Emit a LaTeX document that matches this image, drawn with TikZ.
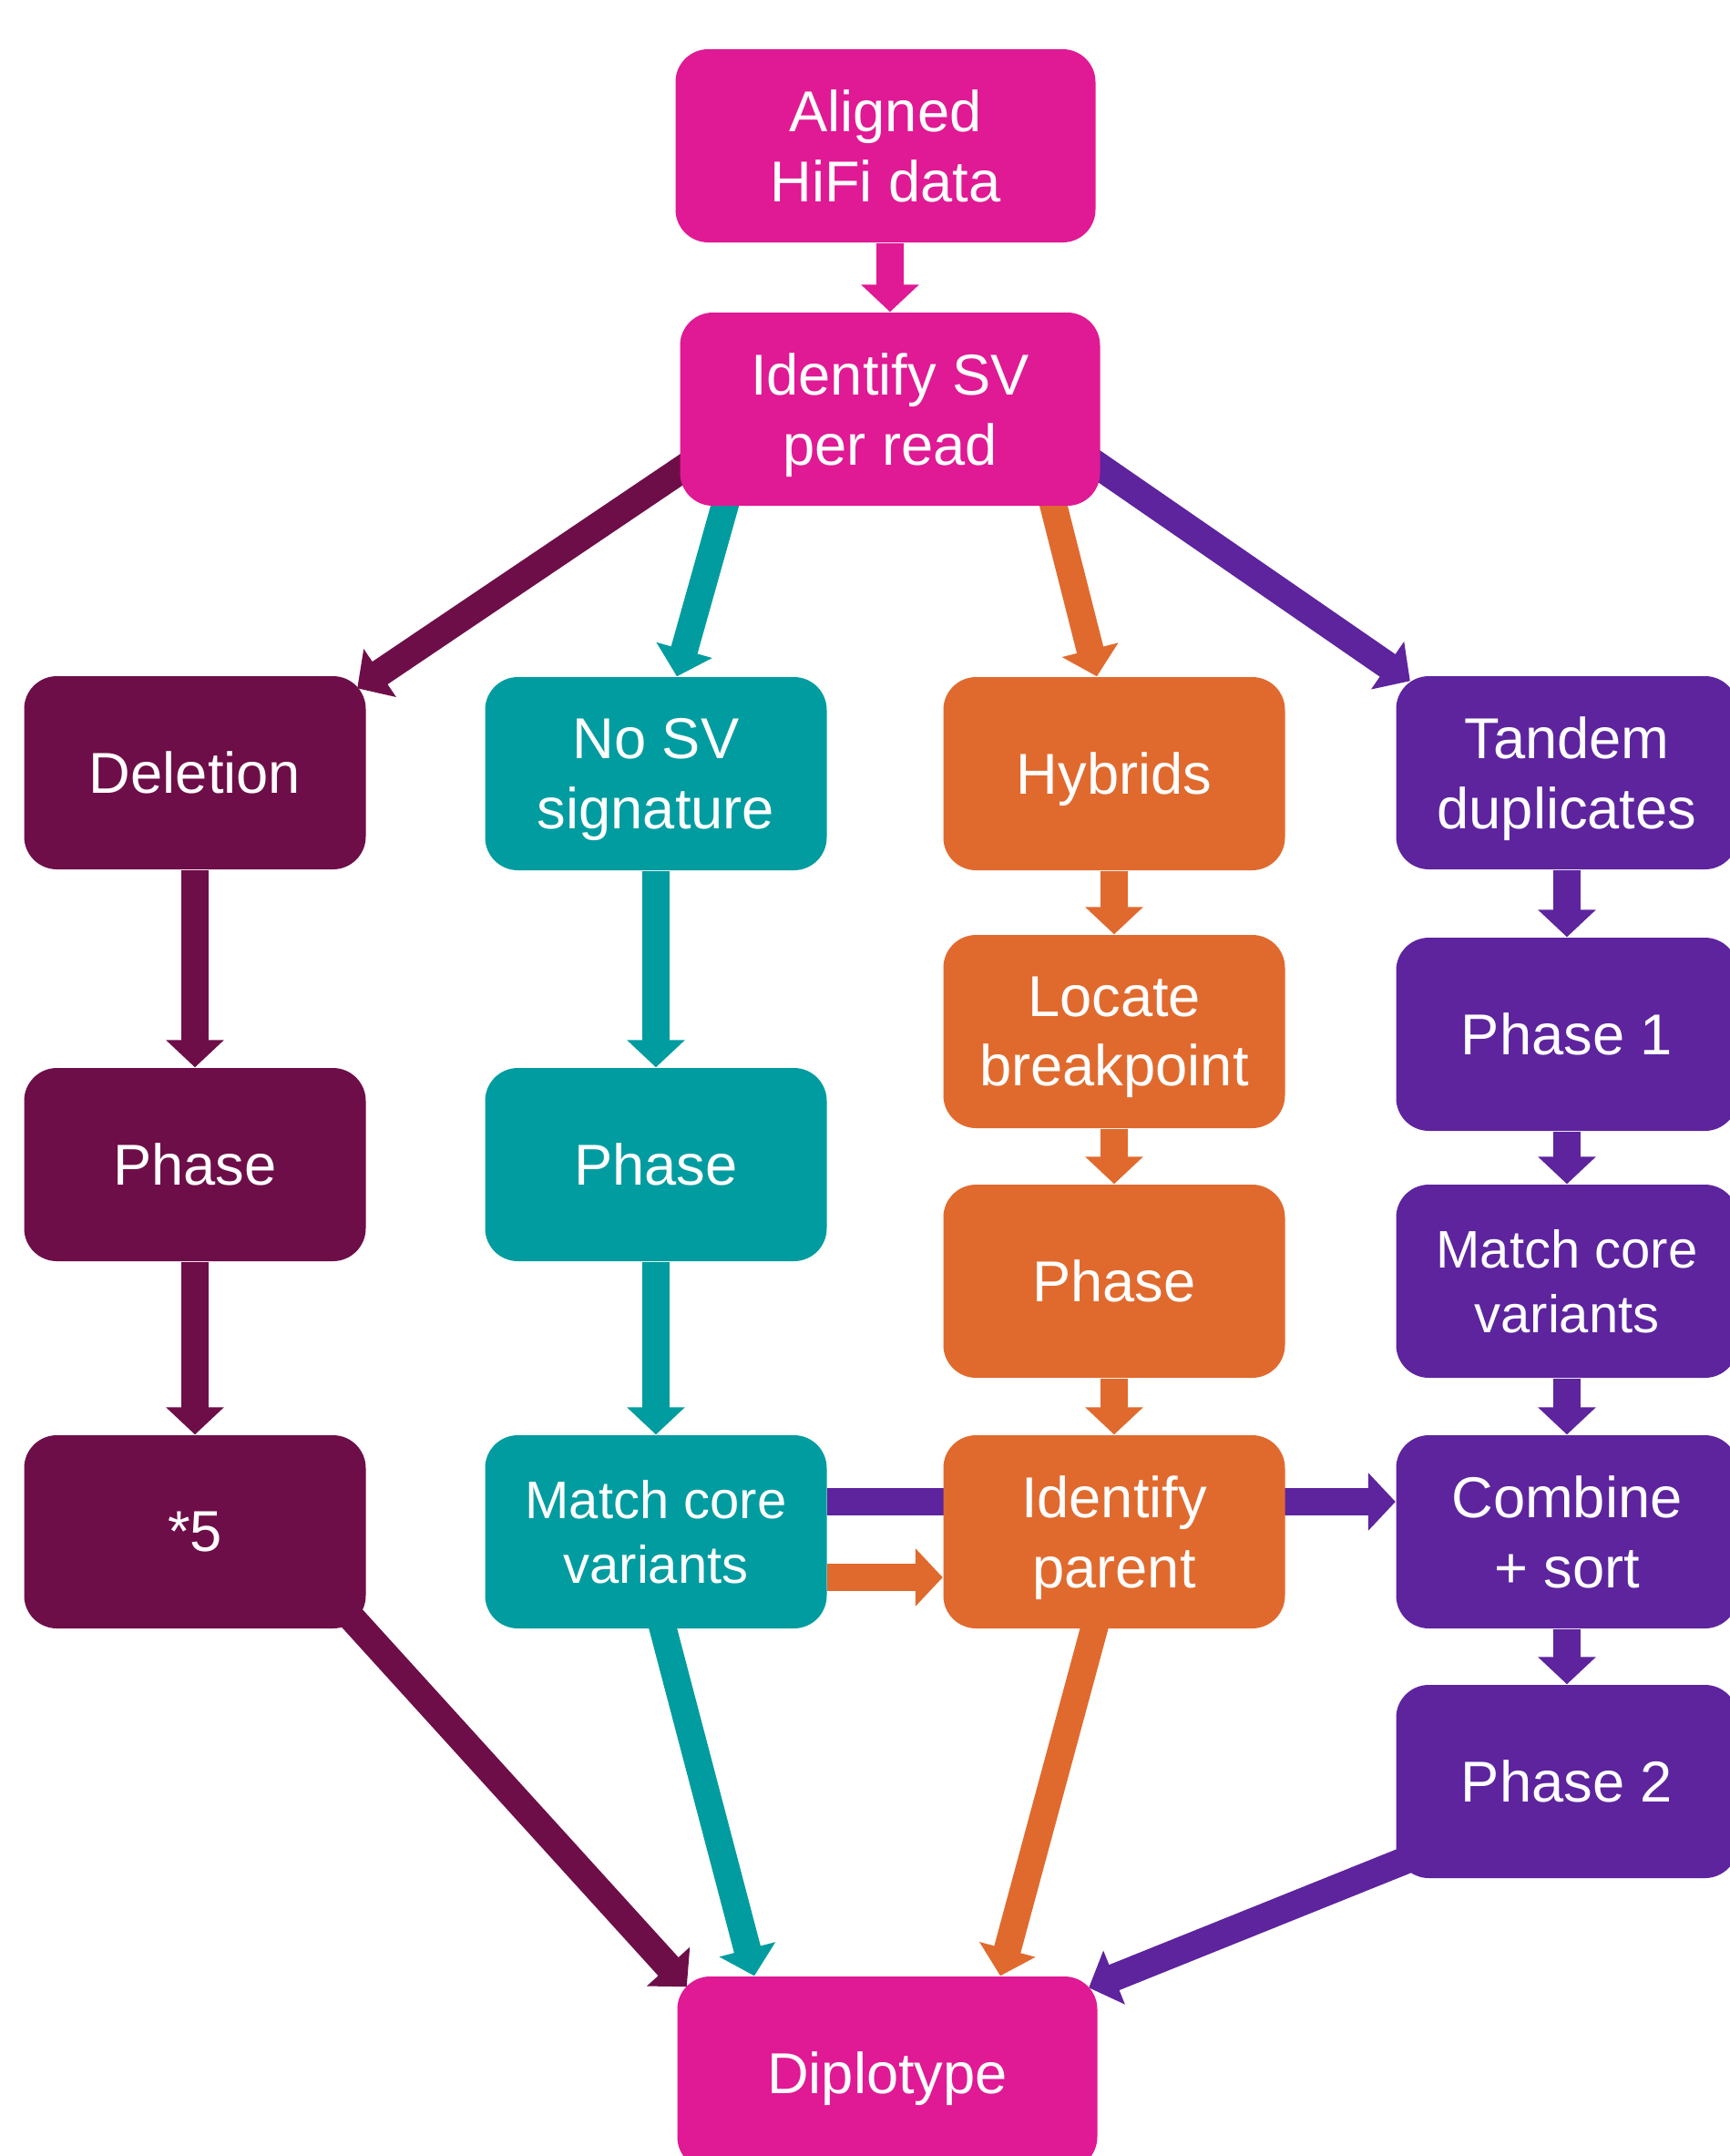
\documentclass[tikz,border=0pt]{standalone}
\usepackage{fontspec}
\setmainfont{Liberation Sans}
\usetikzlibrary{arrows.meta,backgrounds}
\definecolor{cpink}{RGB}{224,25,148}
\definecolor{cplum}{RGB}{110,14,72}
\definecolor{cteal}{RGB}{0,156,160}
\definecolor{corange}{RGB}{224,106,46}
\definecolor{cpurple}{RGB}{93,36,158}
\begin{document}
\begin{tikzpicture}[
  box/.style={rounded corners=0.36cm, minimum width=3.75cm, minimum height=2.12cm,
    inner sep=0pt, text depth=0pt, text=white, align=center,
    font=\fontsize{18pt}{21.7pt}\selectfont},
  wide/.style={minimum width=4.61cm},
  smalltext/.style={font=\fontsize{16.5pt}{20pt}\selectfont},
  flow/.style={line width=0.3cm, -{Triangle[length=0.3cm,width=0.62cm]}}
]
  \useasboundingbox (0,0) rectangle (18.98,-23.66);

  % top
  \node[box, wide, fill=cpink] (aligned) at (9.72, -1.60) {Aligned\\HiFi data};
  \node[box, wide, fill=cpink] (idsv) at (9.77, -4.49) {Identify SV\\per read};

  % deletion column
  \node[box, fill=cplum] (del) at (2.14, -8.48) {Deletion};
  \node[box, fill=cplum] (phaseD) at (2.14, -12.78) {Phase};
  \node[box, fill=cplum] (five) at (2.14, -16.81) {*5};

  % no SV column
  \node[box, fill=cteal] (nosv) at (7.20, -8.49) {No SV\\signature};
  \node[box, fill=cteal] (phaseT) at (7.20, -12.78) {Phase};
  \node[box, smalltext, fill=cteal] (mcvT) at (7.20, -16.81) {Match core\\variants};

  % hybrid column
  \node[box, fill=corange] (hyb) at (12.23, -8.49) {Hybrids};
  \node[box, fill=corange] (locate) at (12.23, -11.32) {Locate\\breakpoint};
  \node[box, fill=corange] (phaseO) at (12.23, -14.06) {Phase};
  \node[box, fill=corange] (idpar) at (12.23, -16.81) {Identify\\parent};

  % tandem column
  \node[box, fill=cpurple] (tandem) at (17.20, -8.48) {Tandem\\duplicates};
  \node[box, fill=cpurple] (phase1) at (17.20, -11.35) {Phase 1};
  \node[box, smalltext, fill=cpurple] (mcvP) at (17.20, -14.06) {Match core\\variants};
  \node[box, fill=cpurple] (combine) at (17.20, -16.81) {Combine\\+ sort};
  \node[box, fill=cpurple] (phase2) at (17.20, -19.55) {Phase 2};

  \node[box, wide, fill=cpink] (dipl) at (9.74, -22.75) {Diplotype};

  \begin{scope}[on background layer]
    \draw[flow, cpink] (idsv.north |- aligned.south) -- (idsv.north);
    \draw[flow, cplum] ([shift={(0.25,-0.51)}]idsv.west) -- ([shift={(-0.10,-0.14)}]del.north east);
    \draw[flow, cteal] ([shift={(-1.72,0.34)}]idsv.south) -- ([xshift=0.23cm]nosv.north);
    \draw[flow, corange] ([shift={(1.71,0.34)}]idsv.south) -- ([xshift=-0.19cm]hyb.north);
    \draw[flow, cpurple] ([shift={(-0.26,-0.46)}]idsv.east) -- ([shift={(0.16,-0.06)}]tandem.north west);

    \draw[flow, cplum] (del.south) -- (phaseD.north);
    \draw[flow, cplum] (phaseD.south) -- (five.north);
    \draw[flow, cteal] (nosv.south) -- (phaseT.north);
    \draw[flow, cteal] (phaseT.south) -- (mcvT.north);
    \draw[flow, corange] (hyb.south) -- (locate.north);
    \draw[flow, corange] (locate.south) -- (phaseO.north);
    \draw[flow, corange] (phaseO.south) -- (idpar.north);
    \draw[flow, cpurple] (tandem.south) -- (phase1.north);
    \draw[flow, cpurple] (phase1.south) -- (mcvP.north);
    \draw[flow, cpurple] (mcvP.south) -- (combine.north);
    \draw[flow, cpurple] (combine.south) -- (phase2.north);

    \draw[flow, cpurple] ([yshift=0.33cm]mcvT.east) -- ([yshift=0.33cm]combine.west);
    \draw[flow, corange] ([yshift=-0.50cm]mcvT.east) -- ([yshift=-0.50cm]idpar.west);

    \draw[flow, cplum] ([shift={(-0.25,0.22)}]five.south east) -- ([shift={(0.11,-0.12)}]dipl.north west);
    \draw[flow, cteal] ([yshift=0.30cm]mcvT.south) -- ([xshift=-1.46cm]dipl.north);
    \draw[flow, corange] ([shift={(-0.14,0.30)}]idpar.south) -- ([xshift=1.24cm]dipl.north);
    \draw[flow, cpurple] ([shift={(0.28,0.27)}]phase2.south west) -- ([shift={(-0.10,-0.13)}]dipl.north east);
  \end{scope}
\end{tikzpicture}
\end{document}
